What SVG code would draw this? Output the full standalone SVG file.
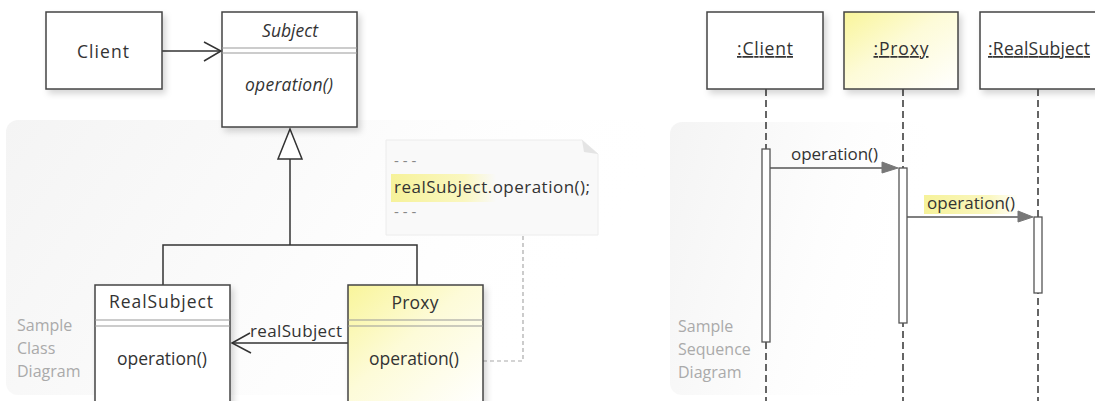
<svg xmlns="http://www.w3.org/2000/svg" width="1095" height="401" viewBox="0 0 1095 401">
<defs>
<style>
text{font-family:"Open Sans","DejaVu Sans",sans-serif;fill:#333;}
.t{font-size:17.5px;text-anchor:middle;}
.m{font-size:17px;}
.it{font-style:italic;}
.cap{font-size:16px;fill:#aaa;}
.dots{font-size:15px;fill:#888;}
.box{fill:#fff;stroke:#444;stroke-width:1.5;filter:url(#sh);}
.ybox{fill:url(#yel);stroke:#444;stroke-width:1.5;filter:url(#sh);}
.sep{stroke:#999;stroke-width:1;fill:none;}
.ln{stroke:#333;stroke-width:1.5;fill:none;}
.life{stroke:#333;stroke-width:1.5;stroke-dasharray:7 4;fill:none;}
.act{fill:#fff;stroke:#555;stroke-width:1.3;}
.msg{stroke:#555;stroke-width:1.3;fill:none;}
.head{fill:#777;stroke:#777;stroke-width:1;}
.note-ln{stroke:#aaa;stroke-width:1.2;stroke-dasharray:4 3;fill:none;}
</style>
<filter id="sh" x="-20%" y="-20%" width="150%" height="150%">
<feDropShadow dx="3" dy="4" stdDeviation="3" flood-color="#000" flood-opacity="0.16"/>
</filter>
<linearGradient id="yel" x1="0" y1="0" x2="1" y2="1">
<stop offset="0" stop-color="#f9f59a"/>
<stop offset="0.45" stop-color="#fdfbd8"/>
<stop offset="1" stop-color="#ffffff"/>
</linearGradient>
<linearGradient id="hl" x1="0" y1="0" x2="1" y2="0">
<stop offset="0" stop-color="#f6f29a"/>
<stop offset="0.7" stop-color="#faf7c0"/>
<stop offset="1" stop-color="#faf7c0" stop-opacity="0"/>
</linearGradient>
<linearGradient id="panel" x1="0" y1="0" x2="1" y2="0.3">
<stop offset="0" stop-color="#f4f4f4"/>
<stop offset="0.5" stop-color="#fbfbfb"/>
<stop offset="1" stop-color="#ffffff" stop-opacity="0"/>
</linearGradient>
</defs>

<!-- background panels -->
<g id="class-panel">
<rect x="6" y="120" width="640" height="275" rx="12" fill="url(#panel)"/>
<text class="cap" x="17" y="331">Sample</text>
<text class="cap" x="17" y="354">Class</text>
<text class="cap" x="17" y="377">Diagram</text>
</g>
<g id="seq-panel">
<rect x="670" y="122" width="260" height="273" rx="12" fill="url(#panel)"/>
<text class="cap" x="678" y="332">Sample</text>
<text class="cap" x="678" y="355">Sequence</text>
<text class="cap" x="678" y="378">Diagram</text>
</g>

<!-- note -->
<g id="note">
<path d="M386,140 H582 L598,154 V235 H386 Z" fill="#f9f9f9" stroke="#ececec" stroke-width="1"/>
<path d="M582,140 L598,154 L584,152 Z" fill="#e4e4e4"/>
<text class="dots" x="394" y="166">- - -</text>
<rect x="391" y="174" width="105" height="28" fill="url(#hl)"/>
<text class="m" x="394" y="193" textLength="196">realSubject.operation();</text>
<text class="dots" x="394" y="217">- - -</text>
</g>

<!-- connectors -->
<g id="connectors">
<line class="ln" x1="162" y1="51" x2="221" y2="51"/>
<polyline class="ln" points="204,42 221,51 204,61"/>
<polygon points="290,129 302,159 278,159" fill="#fff" stroke="#333" stroke-width="1.5"/>
<polyline class="ln" points="290,159 290,245"/>
<polyline class="ln" points="163,285 163,245 417,245 417,285"/>
<line class="ln" x1="348" y1="343" x2="232" y2="343"/>
<polyline class="ln" points="250,333 232,343 251,353"/>
<text class="m" x="250" y="337" textLength="92">realSubject</text>
<polyline class="note-ln" points="523,236 523,361 462,361"/>
<!-- lifelines -->
<line class="life" x1="766" y1="89" x2="766" y2="401"/>
<line class="life" x1="903" y1="89" x2="903" y2="401"/>
<line class="life" x1="1038" y1="89" x2="1038" y2="401"/>
</g>

<!-- class nodes -->
<g id="client">
<rect class="box" x="46" y="12" width="116" height="77"/>
<text class="t" x="103" y="58" textLength="52">Client</text>
</g>
<g id="subject">
<rect class="box" x="222" y="12" width="135" height="115"/>
<text class="t it" x="290" y="37">Subject</text>
<line class="sep" x1="222" y1="48" x2="357" y2="48"/>
<line class="sep" x1="222" y1="53" x2="357" y2="53"/>
<text class="t it" x="289" y="91" textLength="88">operation()</text>
</g>
<g id="realsubject">
<rect class="box" x="95" y="285" width="135" height="120"/>
<text class="t" x="161" y="308" textLength="104">RealSubject</text>
<line class="sep" x1="95" y1="320" x2="230" y2="320"/>
<line class="sep" x1="95" y1="326" x2="230" y2="326"/>
<text class="t" x="162" y="365" textLength="90">operation()</text>
</g>
<g id="proxy">
<rect class="ybox" x="348" y="285" width="135" height="120"/>
<text class="t" x="415" y="309" textLength="47">Proxy</text>
<line class="sep" x1="348" y1="320" x2="483" y2="320"/>
<line class="sep" x1="348" y1="326" x2="483" y2="326"/>
<text class="t" x="414" y="365" textLength="90">operation()</text>
</g>

<!-- sequence nodes -->
<g id="seq-client">
<rect class="box" x="707" y="12" width="116" height="77"/>
<text class="t" x="765" y="55" text-decoration="underline" textLength="56">:Client</text>
</g>
<g id="seq-proxy">
<rect class="ybox" x="844" y="12" width="114" height="77"/>
<text class="t" x="901" y="55" text-decoration="underline" textLength="55">:Proxy</text>
</g>
<g id="seq-realsubject">
<rect class="box" x="980" y="12" width="116" height="77"/>
<text class="t" x="1039" y="55" text-decoration="underline" textLength="102">:RealSubject</text>
</g>

<!-- activations and messages -->
<g id="activations">
<rect class="act" x="762" y="149" width="8" height="193"/>
<rect class="act" x="899" y="168" width="8" height="155"/>
<rect class="act" x="1034" y="217" width="8" height="76"/>
</g>
<g id="messages">
<line class="msg" x1="770" y1="168" x2="885" y2="168"/>
<polygon class="head" points="882,162 898,168 882,173"/>
<text class="m" x="791" y="160" textLength="87">operation()</text>
<rect x="924" y="195" width="94" height="19" fill="url(#hl)"/>
<line class="msg" x1="907" y1="217" x2="1020" y2="217"/>
<polygon class="head" points="1018,211 1033,217 1018,222"/>
<text class="m" x="927" y="209" textLength="88">operation()</text>
</g>
</svg>
